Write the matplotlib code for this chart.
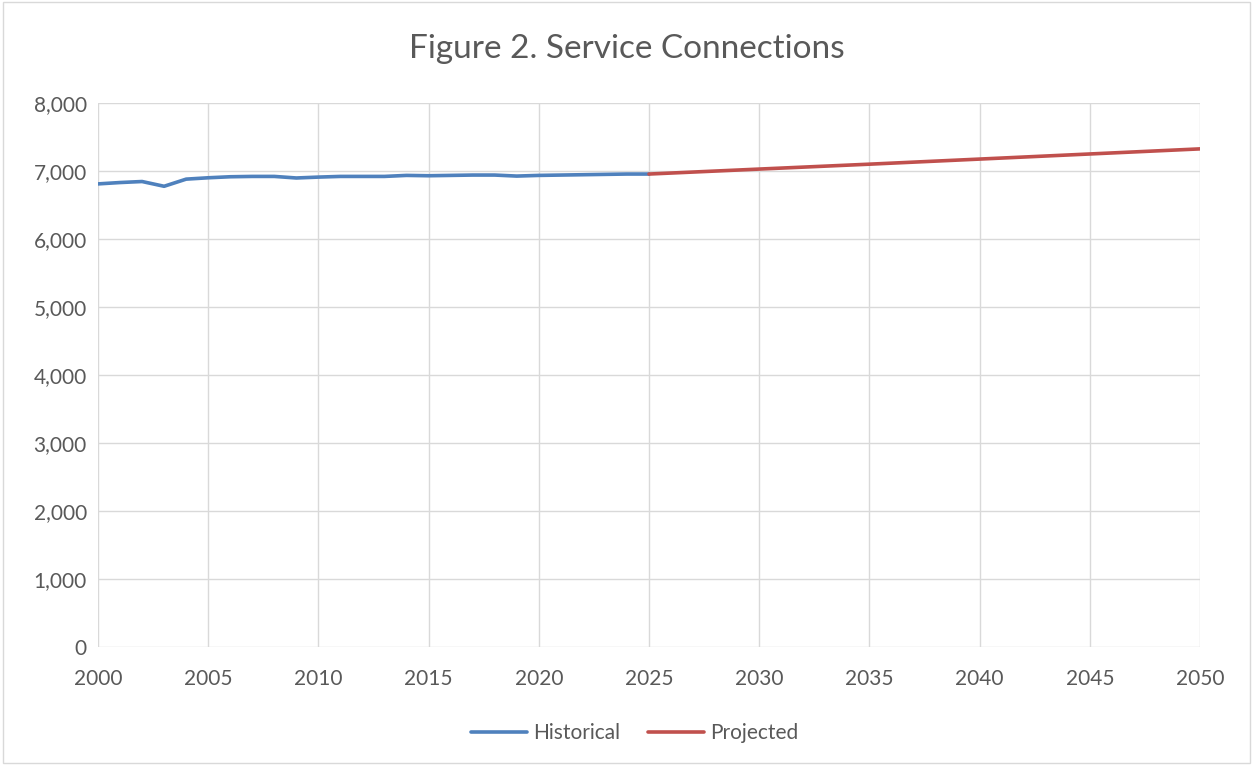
import matplotlib
matplotlib.use("Agg")
import matplotlib.pyplot as plt
from matplotlib.ticker import FuncFormatter, MultipleLocator

hist_years = list(range(2000, 2026))
hist_values = [6810, 6830, 6845, 6775, 6880, 6900, 6915, 6920, 6920, 6897,
               6910, 6920, 6920, 6920, 6935, 6930, 6935, 6940, 6940, 6925,
               6935, 6940, 6945, 6950, 6955, 6955]
proj_years = [2025, 2030, 2035, 2040, 2045, 2050]
proj_values = [6955, 7028, 7100, 7175, 7250, 7325]

plt.rcParams["font.family"] = ["Lato", "DejaVu Sans"]
text_col = "#595959"

fig = plt.figure(figsize=(12.53, 7.65), dpi=100)
ax = fig.add_axes([0.0782, 0.1542, 0.8795, 0.7112])

ax.plot(hist_years, hist_values, color="#4F81BD", linewidth=2.6, label="Historical",
        solid_capstyle="round")
ax.plot(proj_years, proj_values, color="#C0504D", linewidth=2.6, label="Projected",
        solid_capstyle="round")

ax.set_xlim(2000, 2050)
ax.set_ylim(0, 8000)
ax.xaxis.set_major_locator(MultipleLocator(5))
ax.yaxis.set_major_locator(MultipleLocator(1000))
ax.yaxis.set_major_formatter(FuncFormatter(lambda v, p: f"{int(v):,}"))
ax.grid(True, color="#D9D9D9", linewidth=1)
ax.set_axisbelow(True)
for s in ax.spines.values():
    s.set_visible(False)
ax.tick_params(length=0, labelsize=15, colors=text_col)
ax.tick_params(axis="x", pad=16)
ax.tick_params(axis="y", pad=8)

fig.suptitle("Figure 2. Service Connections", y=0.955, fontsize=24, color=text_col)
leg = ax.legend(loc="upper center", bbox_to_anchor=(0.487, -0.105), ncol=2, frameon=False,
                fontsize=15, handlelength=2.7, columnspacing=1.3, handletextpad=0.3)
for t in leg.get_texts():
    t.set_color(text_col)

fig.patches.append(plt.Rectangle((0.002, 0.002), 0.996, 0.996, transform=fig.transFigure,
                                 fill=False, edgecolor="#D9D9D9", linewidth=1))
fig.savefig("out.png", dpi=100)
